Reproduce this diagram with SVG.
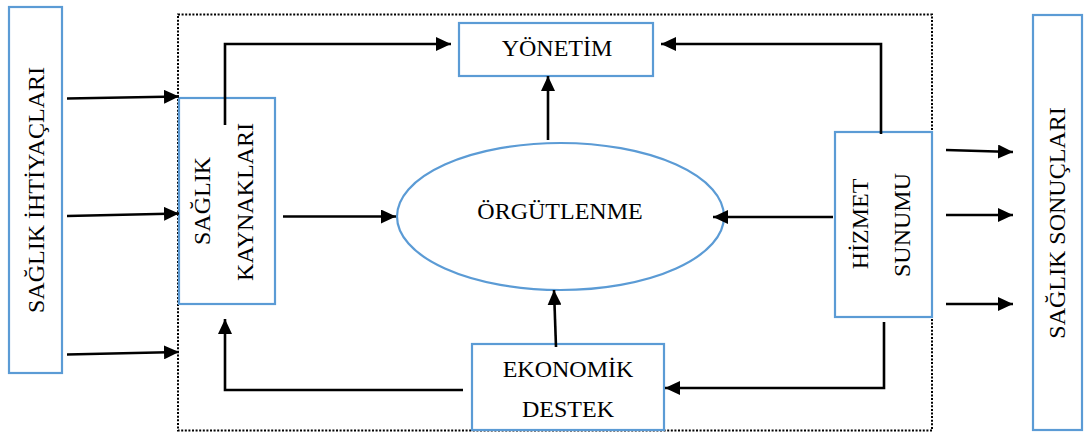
<svg xmlns="http://www.w3.org/2000/svg" width="1084" height="432" viewBox="0 0 1084 432">
  <style>
    .box { fill: #ffffff; stroke: #5b9bd5; stroke-width: 2.2; }
    .frame { fill: none; stroke: #000000; stroke-width: 2; stroke-dasharray: 2 1.6; }
    .link { fill: none; stroke: #000000; stroke-width: 2.6; }
    .label { font-family: "Liberation Serif", "Times New Roman", serif; font-size: 24px; fill: #000000; text-anchor: middle; }
  </style>
  <defs>
    <marker id="arrow" viewBox="0 0 15 14" refX="15" refY="7" markerWidth="15" markerHeight="14" markerUnits="userSpaceOnUse" orient="auto">
      <path d="M0,0 L15,7 L0,14 Z" fill="#000000"/>
    </marker>
  </defs>

  <rect width="1084" height="432" fill="#ffffff"/>

  <!-- system boundary -->
  <rect class="frame" x="178" y="14.5" width="754" height="416"/>

  <g id="saglik-ihtiyaclari">
    <rect class="box" x="9" y="7" width="53" height="366"/>
    <text class="label" transform="translate(44 190) rotate(-90)">SAĞLIK İHTİYAÇLARI</text>
  </g>

  <g id="saglik-kaynaklari">
    <rect class="box" x="179" y="98" width="96" height="206"/>
    <text class="label" transform="translate(210 201) rotate(-90)">SAĞLIK</text>
    <text class="label" transform="translate(253 202) rotate(-90)">KAYNAKLARI</text>
  </g>

  <g id="yonetim">
    <rect class="box" x="459" y="23" width="194" height="53"/>
    <text class="label" x="557" y="56">YÖNETİM</text>
  </g>

  <g id="orgutlenme">
    <ellipse class="box" cx="560.5" cy="216.5" rx="163.5" ry="73.5"/>
    <text class="label" x="560" y="219">ÖRGÜTLENME</text>
  </g>

  <g id="hizmet-sunumu">
    <rect class="box" x="835" y="132" width="97" height="185"/>
    <text class="label" transform="translate(868 224) rotate(-90)">HİZMET</text>
    <text class="label" transform="translate(910 225) rotate(-90)">SUNUMU</text>
  </g>

  <g id="ekonomik-destek">
    <rect class="box" x="472" y="344" width="192" height="86"/>
    <text class="label" x="568" y="377">EKONOMİK</text>
    <text class="label" x="568" y="417">DESTEK</text>
  </g>

  <g id="saglik-sonuclari">
    <rect class="box" x="1033" y="15" width="49" height="415"/>
    <text class="label" transform="translate(1065 223) rotate(-90)">SAĞLIK SONUÇLARI</text>
  </g>

  <g id="connectors">
    <!-- needs into resources -->
    <path class="link" marker-end="url(#arrow)" d="M67,98.5 L179,96.5"/>
    <path class="link" marker-end="url(#arrow)" d="M67,216 L179,213.5"/>
    <path class="link" marker-end="url(#arrow)" d="M67,354.5 L179,352"/>
    <!-- resources to management -->
    <path class="link" marker-end="url(#arrow)" d="M225,125 L225,44 L451,44"/>
    <!-- resources to organisation -->
    <path class="link" marker-end="url(#arrow)" d="M283,216.5 L396,216.5"/>
    <!-- organisation to management -->
    <path class="link" marker-end="url(#arrow)" d="M548,140 L548,76"/>
    <!-- service delivery to management -->
    <path class="link" marker-end="url(#arrow)" d="M881,134 L881,44 L661,44"/>
    <!-- service delivery to organisation -->
    <path class="link" marker-end="url(#arrow)" d="M833,217 L713,217"/>
    <!-- service delivery to economic support -->
    <path class="link" marker-end="url(#arrow)" d="M884,322 L884,388 L665,388"/>
    <!-- economic support to organisation -->
    <path class="link" marker-end="url(#arrow)" d="M556,347 L554,290"/>
    <!-- economic support back to resources -->
    <path class="link" marker-end="url(#arrow)" d="M463,390 L225,390 L225,319"/>
    <!-- outcomes -->
    <path class="link" marker-end="url(#arrow)" d="M946,150 L1013,152"/>
    <path class="link" marker-end="url(#arrow)" d="M946,215 L1013,215"/>
    <path class="link" marker-end="url(#arrow)" d="M946,304 L1013,304"/>
  </g>
</svg>
